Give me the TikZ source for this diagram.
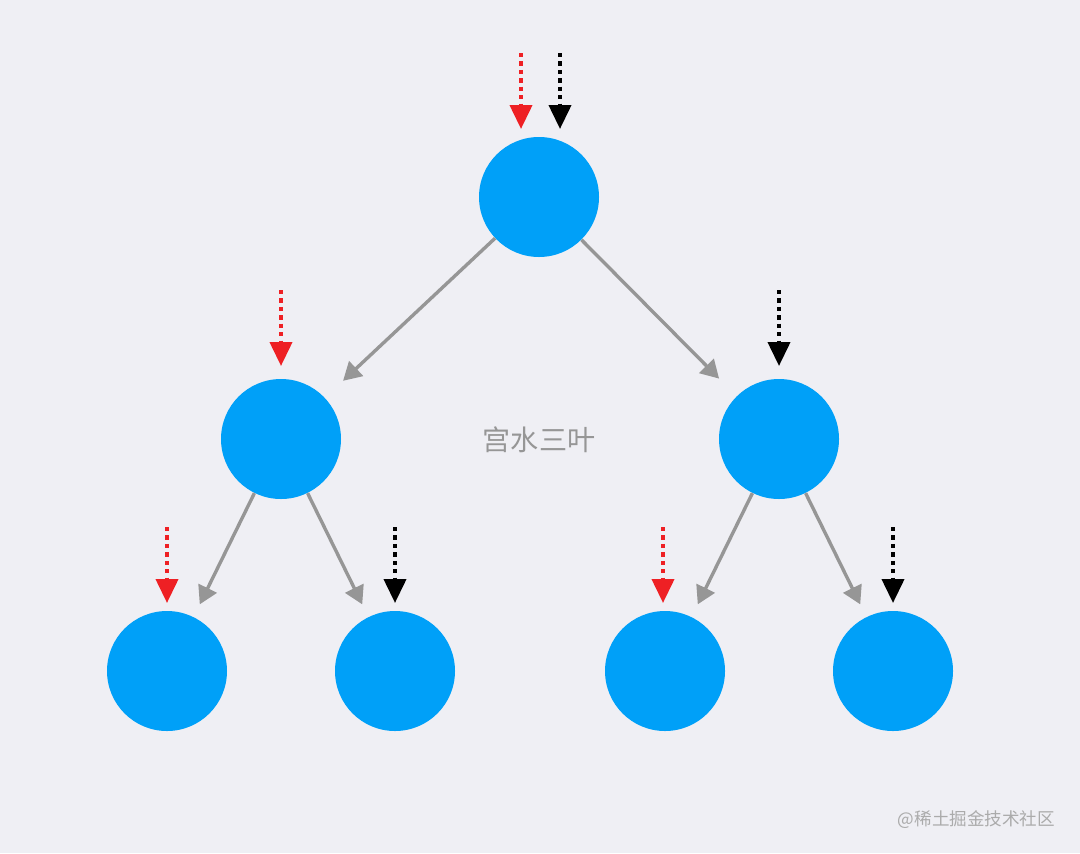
\documentclass[tikz,border=0pt]{standalone}
\usepackage{fontspec}
\newfontfamily\cjk{Noto Sans CJK SC}
\usetikzlibrary{arrows.meta,positioning}
\definecolor{bgcol}{RGB}{239,239,244}
\definecolor{nodeblue}{RGB}{0,160,248}
\definecolor{edgegray}{RGB}{150,150,150}
\definecolor{ptred}{RGB}{238,32,36}
\tikzset{
  treenode/.style={circle, fill=nodeblue, minimum size=3cm, inner sep=0pt},
  edge/.style={draw=edgegray, line width=2.4pt, -{Triangle[width=0.5cm,length=0.45cm]}},
  pointer/.style={line width=2.8pt, dash pattern=on 3pt off 3pt, -{Triangle[width=0.55cm,length=0.6cm]}},
}
\begin{document}
\begin{tikzpicture}
  \fill[bgcol] (0,0) rectangle (27,-21.325);
  \useasboundingbox (0,0) rectangle (27,-21.325);

  % tree
  \node[treenode] (root) at (13.475,-4.925) {};
  \node[treenode] (l) at (7.025,-10.975) {};
  \node[treenode] (r) at (19.475,-10.975) {};
  \node[treenode] (ll) at (4.175,-16.775) {};
  \node[treenode] (lr) at (9.875,-16.775) {};
  \node[treenode] (rl) at (16.625,-16.775) {};
  \node[treenode] (rr) at (22.325,-16.775) {};

  \draw[edge, shorten >=0.62cm] (root) -- (l);
  \draw[edge, shorten >=0.62cm] (root) -- (r);
  \draw[edge, shorten >=0.35cm] (l) -- (ll);
  \draw[edge, shorten >=0.35cm] (l) -- (lr);
  \draw[edge, shorten >=0.35cm] (r) -- (rl);
  \draw[edge, shorten >=0.35cm] (r) -- (rr);

  % pointers
  \coordinate (pa) at (13.025,-1.325);
  \coordinate (pb) at (14.0,-1.325);
  \draw[pointer, ptred] (pa) -- ++(0,-1.9);
  \draw[pointer, black] (pb) -- ++(0,-1.9);
  \coordinate (pc) at (7.025,-7.25);
  \coordinate (pd) at (19.475,-7.25);
  \draw[pointer, ptred] (pc) -- ++(0,-1.9);
  \draw[pointer, black] (pd) -- ++(0,-1.9);
  \coordinate (pe) at (4.175,-13.175);
  \coordinate (pf) at (9.875,-13.175);
  \coordinate (pg) at (16.575,-13.175);
  \coordinate (ph) at (22.325,-13.175);
  \draw[pointer, ptred] (pe) -- ++(0,-1.9);
  \draw[pointer, black] (pf) -- ++(0,-1.9);
  \draw[pointer, ptred] (pg) -- ++(0,-1.9);
  \draw[pointer, black] (ph) -- ++(0,-1.9);

  \node[text=edgegray, font=\cjk\fontsize{20}{24}\selectfont] (name) at (13.475,-11.0) {宫水三叶};
  \node[text=edgegray!80, font=\cjk\fontsize{12.5}{15}\selectfont, anchor=east] (mark) at (26.5,-20.5) {@稀土掘金技术社区};
\end{tikzpicture}
\end{document}
